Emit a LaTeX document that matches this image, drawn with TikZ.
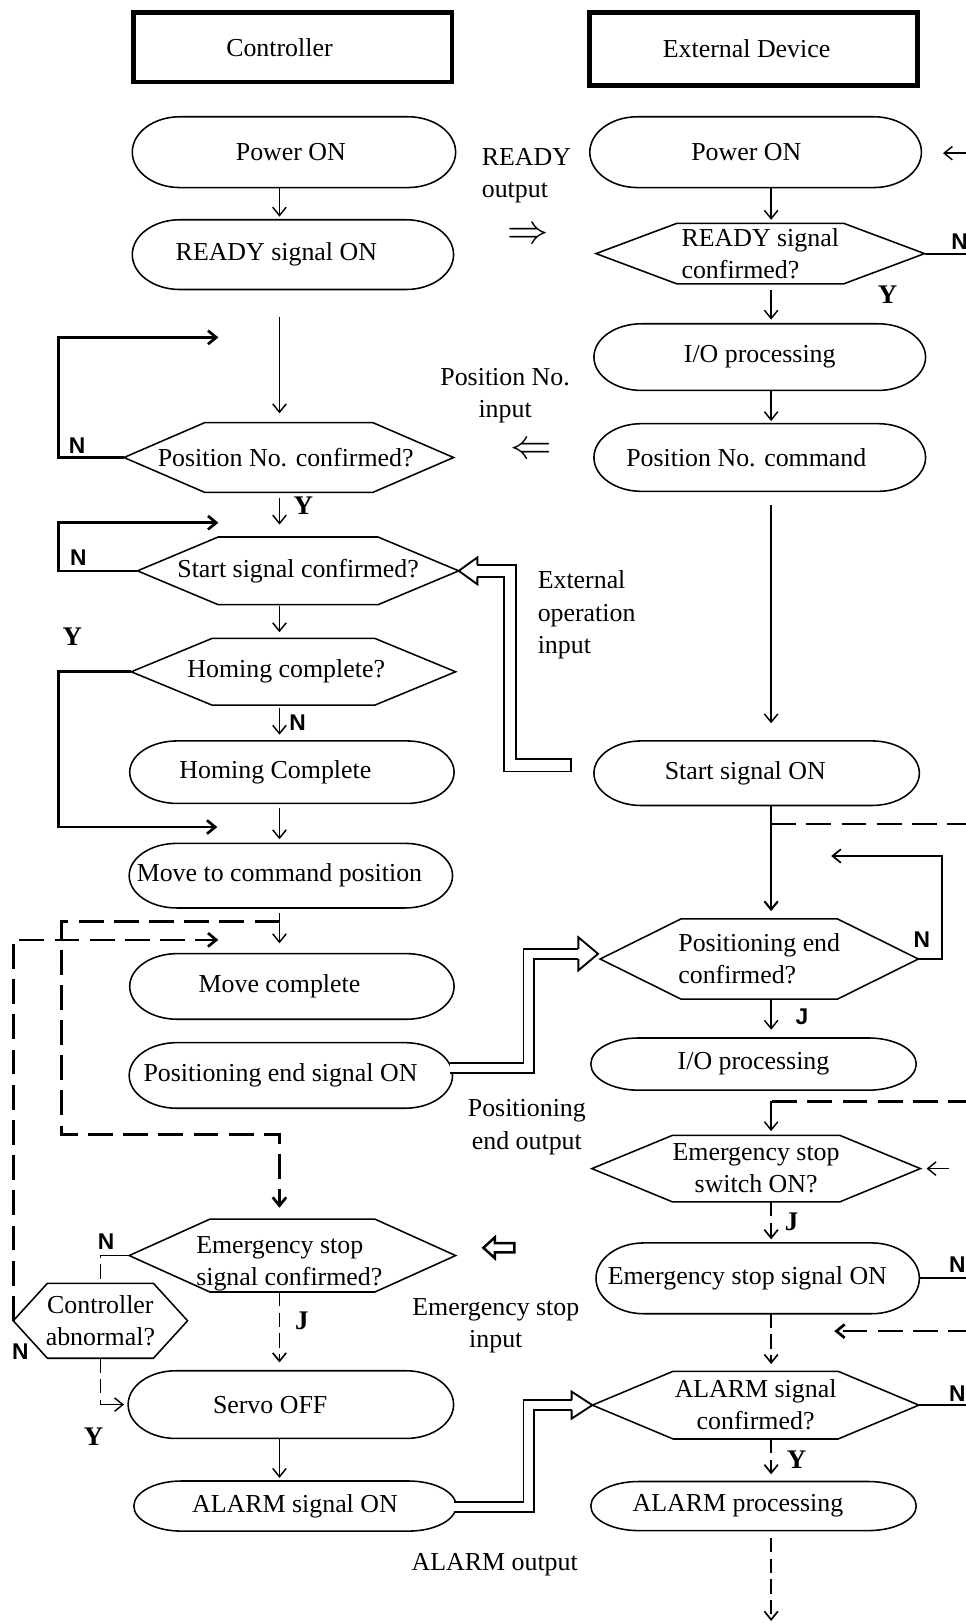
\documentclass[tikz,border=0pt]{standalone}
\usepackage{fontspec}
\setmainfont{Liberation Serif}
\newfontfamily\labelsans{Liberation Sans}
\usetikzlibrary{calc,arrows.meta}

% stadium outline with elliptic ends around a text-only node
\newcommand\stadium[1]{%
  \draw[shapeline] let \p1=(#1.north west), \p2=(#1.south east),
      \n1={(\y1-\y2)/2} in
    (\x1+46,\y1) -- (\x2-46,\y1)
    arc[start angle=90, end angle=-90, x radius=46pt, y radius=\n1]
    -- (\x1+46,\y2)
    arc[start angle=-90, end angle=-270, x radius=46pt, y radius=\n1] -- cycle;}
% flat-topped hexagon whose points are the node's west and east anchors
\newcommand\hexagon[2]{%
  \draw[shapeline] let \p1=(#1.north west), \p2=(#1.south east) in
    (#1.west) -- (\x1+#2,\y1) -- (\x2-#2,\y1) -- (#1.east)
    -- (\x2-#2,\y2) -- (\x1+#2,\y2) -- cycle;}
% open head of a double-line arrow: tip, direction, half gap, half height, length
\newcommand\hollowtip[5]{%
  \draw[line width=1.8pt, line join=miter, shift={#1}, rotate=#2]
    (-#5,#3) -- (-#5,#4) -- (0,0) -- (-#5,-#4) -- (-#5,-#3);}
% invisible spacer that moves a centred text to the left
\newcommand\pad[1]{\rule{#1pt}{0pt}}

\begin{document}
\begin{tikzpicture}[x=1pt, y=1pt,
  font=\fontsize{25}{31}\selectfont,
  shapeline/.style={line width=1.5pt},
  term/.style 2 args={inner sep=0pt, minimum width=#1, minimum height=#2},
  dec/.style 2 args={inner sep=0pt, minimum width=#1, minimum height=#2},
  hdr/.style 2 args={draw, line width=4.5pt, inner sep=0pt, minimum width=#1, minimum height=#2},
  conn/.style={line width=1.4pt},
  arrowend/.style={-{Straight Barb[length=8pt, width=13pt]}},
  loopline/.style={line width=2.6pt},
  dashline/.style={line width=2.6pt, dash pattern=on 24pt off 10pt},
  dashthin/.style={line width=1.6pt, dash pattern=on 14pt off 6pt},
  dbl/.style={double, double distance=8pt, line width=1.8pt, line join=miter},
  ylab/.style={font=\fontsize{26}{30}\selectfont\bfseries},
  nlab/.style={font=\labelsans\fontsize{22}{26}\selectfont\bfseries}
]
\useasboundingbox (0,0) rectangle (933,-1568);
\fill[white] (0,0) rectangle (933,-1568);

% column headers
\node[hdr={307.5}{67.5}] (ctrl) at (283,-45.6) {Controller\pad{26}};
\node[hdr={317}{70.5}] (ext) at (727.8,-47.3) {External Device\pad{13}};

% controller side
\node[term={312}{68}] (pwrL) at (284,-147) {Power ON\pad{6}};
\node[term={310}{67}] (rdyL) at (283,-246) {READY signal ON\pad{32}};
\node[dec={318}{67}] (posq) at (279,-442) {Position No. confirmed?\pad{6}};
\node[dec={310}{65}] (startq) at (288,-551.5) {Start signal confirmed?};
\node[dec={313}{64}] (homq) at (283.5,-649) {Homing complete?\pad{14}};
\node[term={313}{60}] (homC) at (282,-746) {Homing Complete\pad{32}};
\node[term={312}{62}] (mvcmd) at (281,-846) {Move to command position\pad{22}};
\node[term={313}{63}] (mvdone) at (282,-953) {Move complete\pad{24}};
\node[term={312}{63}] (posend) at (281,-1039) {Positioning end signal ON\pad{20}};
\node[dec={315}{70}] (emq) at (282.5,-1213)
  {\raisebox{-7pt}[\height][\depth]{\begin{tabular}{@{}l@{}}Emergency stop\\signal confirmed?\end{tabular}}\pad{6}};
\node[dec={168}{72}, align=center] (abnq) at (97,-1276) {Controller\\abnormal?};
\node[term={314}{65}] (servo) at (281,-1357) {Servo OFF\pad{40}};
\node[term={311}{48}] (alarmL) at (285,-1455) {ALARM signal ON};

% external device side
\node[term={320}{68}] (pwrR) at (730,-147) {Power ON\pad{18}};
\node[dec={317}{58}, align=left] (readyq) at (734.5,-245) {READY signal\\confirmed?};
\node[term={320}{64}] (io1) at (734,-345) {I/O processing};
\node[term={320}{65}] (poscmd) at (734,-442) {Position No. command\pad{26}};
\node[term={314}{62}] (startsig) at (731,-747) {Start signal ON\pad{22}};
\node[dec={307}{77}, align=left] (peq) at (733.5,-926.5) {Positioning end\\confirmed?};
\node[term={314}{50}] (io2) at (728,-1028) {I/O processing};
\node[dec={317}{64}, align=center] (esq) at (730.5,-1129) {Emergency stop\\switch ON?};
\node[term={312}{68}] (esig) at (732,-1235) {Emergency stop signal ON\pad{20}};
\node[dec={315}{65}, align=center] (alq) at (730,-1357.5) {ALARM signal\\confirmed?};
\node[term={314}{47}] (alproc) at (728,-1455) {ALARM processing\pad{30}};

% outlines
\foreach \nm in {pwrL,rdyL,homC,mvcmd,mvdone,posend,servo,alarmL,pwrR,io1,poscmd,startsig,io2,esig,alproc} {\stadium{\nm}}
\foreach \nm in {posq,startq,homq,emq,readyq,peq,esq,alq} {\hexagon{\nm}{78}}
\hexagon{abnq}{33}

% signal labels between the columns
\node[anchor=west, align=left] (rdyout) at (462,-170) {READY\\output};
\node[inner sep=0pt] (rdyarrow) at (510,-228) {\resizebox{40pt}{!}{$\Rightarrow$}};
\node[align=center] (posin) at (488,-382) {Position No.\\input};
\node[inner sep=0pt] (posarrow) at (513,-436) {\resizebox{40pt}{!}{$\Leftarrow$}};
\node[anchor=west, align=left] (extin) at (516,-594) {External\\operation\\input};
\node[align=center] (peout) at (509,-1089) {Positioning\\end output};
\node[align=center] (esin) at (479,-1281) {Emergency stop\\input};
\node (alout) at (478,-1512) {ALARM output};
\draw[line width=2.4pt, line join=miter] (467,-1205.5) -- (478,-1195.5) -- (478,-1201)
  -- (497,-1201) -- (497,-1210) -- (478,-1210) -- (478,-1215.5) -- cycle;

% helper points
\coordinate (L) at (270,0);
\coordinate (R) at (745,0);
\coordinate (free1) at (270,-306);
\coordinate (free2) at (745,-488);
\coordinate (free3) at (745,-1566);
\coordinate (loop1) at (211,-326);
\coordinate (loop2) at (211,-505);
\coordinate (loop3) at (210,-799);
\coordinate (loop4) at (803,-827);
\coordinate (split1) at (270,-890);
\coordinate (move1) at (211,-908);
\coordinate (split2) at (745,-796);
\coordinate (edge0) at (940,-148);
\coordinate (in0) at (911,-148);
\coordinate (edge1) at (940,-796);
\coordinate (edge2) at (940,-1064);
\coordinate (in1) at (917,-1129);
\coordinate (edge3) at (940,-1235);
\coordinate (edge4) at (940,-1286);
\coordinate (back1) at (806,-1286);
\coordinate (edge5) at (940,-1357.5);
\coordinate (edge6) at (940,-245);

% controller flow
\draw[conn,arrowend,shorten >=3pt] (pwrL.south -| L) -- (rdyL.north -| L);
\draw[conn,arrowend,shorten >=9pt] (free1) -- (posq.north -| L);
\draw[loopline,arrowend] (posq.west) -- ++(-63,0) |- (loop1);
\draw[conn,arrowend,shorten <=5pt,shorten >=12pt] (posq.south -| L) -- (startq.north -| L);
\draw[loopline,arrowend] (startq.west) -- ++(-76,0) |- (loop2);
\draw[conn,arrowend,shorten <=1pt,shorten >=6pt] (startq.south -| L) -- (homq.north -| L);
\draw[loopline,arrowend] (homq.west) -- ++(-70,0) |- (loop3);
\draw[conn,arrowend,shorten <=3pt,shorten >=6pt] (homq.south -| L) -- (homC.north -| L);
\draw[conn,arrowend,shorten <=4pt,shorten >=4pt] (homC.south -| L) -- (mvcmd.north -| L);
\draw[conn,arrowend,shorten <=5pt,shorten >=10pt] (mvcmd.south -| L) -- (mvdone.north -| L);
\draw[dashline,arrowend,shorten >=11pt] (split1) -| ++(-210.5,-206) -| (emq.north -| L);
\draw[dashline,arrowend] (abnq.west) |- (move1);
\draw[conn] (emq.west) -- ++(-16,0);
\draw[dashthin] ($(emq.west)+(-16,0)$) -| (abnq.north);
\draw[dashthin] (abnq.south) -- (abnq.south |- servo.west);
\draw[conn,arrowend,shorten >=4pt] (abnq.south |- servo.west) -- (servo.west);
\draw[dashthin,arrowend,shorten >=8pt] (emq.south -| L) -- (servo.north -| L);
\draw[conn,arrowend,shorten >=3pt] (servo.south -| L) -- (alarmL.north -| L);

% external device flow
\draw[conn,arrowend] (edge0) -- (in0);
\draw[line width=2pt] (readyq.east) -- (edge6);
\draw[conn,arrowend,shorten >=3.5pt] (pwrR.south -| R) -- (readyq.north -| R);
\draw[conn,arrowend,shorten <=6pt,shorten >=4pt] (readyq.south -| R) -- (io1.north -| R);
\draw[conn,arrowend,shorten <=1pt,shorten >=2.5pt] (io1.south -| R) -- (poscmd.north -| R);
\draw[conn,arrowend,shorten >=17pt] (free2) -- (startsig.north -| R);
\draw[line width=2pt,arrowend,shorten >=7.5pt] (startsig.south -| R) -- (peq.north -| R);
\draw[dashline] (split2) -- (edge1);
\draw[line width=1.7pt,arrowend] (peq.east) -- ++(23,0) |- (loop4);
\draw[conn,arrowend,shorten >=8pt] (peq.south -| R) -- (io2.north -| R);
\draw[dashline] (edge2) -- (edge2 -| R);
\draw[conn,arrowend,shorten >=4pt] (edge2 -| R) -- (esq.north -| R);
\draw[conn,arrowend,shorten >=6pt] (in1) -- (esq.east);
\draw[dashthin,arrowend,shorten >=3.5pt] (esq.south -| R) -- (esig.north -| R);
\draw[line width=2pt] (esig.east) -- (edge3);
\draw[dashthin,arrowend,shorten >=7pt] (esig.south -| R) -- (alq.north -| R);
\draw[dashline,arrowend] (edge4) -- (back1);
\draw[line width=2pt] (alq.east) -- (edge5);
\draw[dashthin,arrowend,shorten >=7pt] (alq.south -| R) -- (alproc.north -| R);
\draw[dashthin,arrowend,shorten <=7pt] (alproc.south -| R) -- (free3);

% double-line signal arrows
\draw[dbl] ($(posend.east)+(-2,7.5)$) -- ++(75.5,0) |- ($(peq.west)+(-21,5)$);
\hollowtip{($(peq.west)+(-2,5)$)}{0}{4.9}{16}{19}
\draw[dbl] ($(alarmL.east)+(-2,-1)$) -- ++(72,0) |- ($(alq.west)+(-20,0)$);
\hollowtip{(alq.west)}{0}{4.9}{13}{20}
\draw[dbl, double distance=10pt] ($(startsig.west)+(-21,7.5)$) -- ++(-60,0) |- ($(startq.east)+(18,0)$);
\hollowtip{(startq.east)}{180}{5.9}{13}{18}
\draw[line width=1.8pt] ($(startsig.west)+(-21.9,0.7)$) -- ++(0,13.6);

% branch labels
\node[ylab] (y1) at (293,-489) {Y};
\node[ylab] (y2) at (70,-615) {Y};
\node[ylab] (y3) at (857.6,-285) {Y};
\node[ylab] (y4) at (90.5,-1388) {Y};
\node[ylab] (y5) at (769.5,-1410) {Y};
\node[nlab] (n1) at (74.5,-431) {N};
\node[nlab] (n2) at (75.7,-539) {N};
\node[nlab] (n3) at (287.5,-698.5) {N};
\node[nlab] (n4) at (890.5,-908) {N};
\node[nlab] (n5) at (925,-1222) {N};
\node[nlab] (n6) at (925,-1346) {N};
\node[nlab] (n7) at (927,-233) {N};
\node[nlab] (n8) at (102.5,-1200) {N};
\node[nlab] (n9) at (19.6,-1305.5) {N};
\node[nlab] (j1) at (774.8,-982) {J};
\node[ylab] (j2) at (764.7,-1180) {J};
\node[ylab] (j3) at (291.6,-1276.5) {J};
\end{tikzpicture}
\end{document}
